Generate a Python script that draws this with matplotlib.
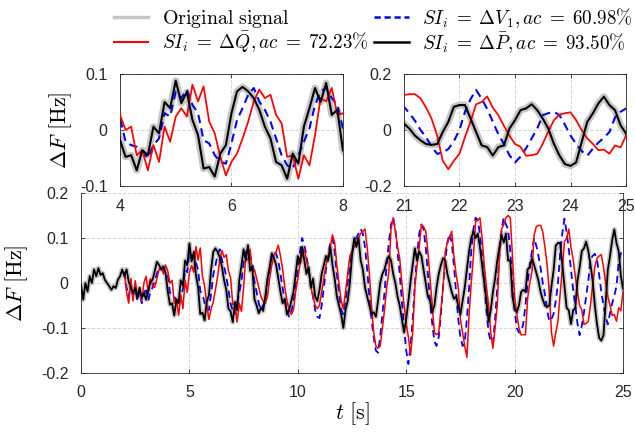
import numpy as np
import matplotlib.pyplot as plt
from matplotlib.lines import Line2D
from matplotlib.ticker import FuncFormatter

t_start, t_end, dt = 0.0, 25.0, 0.1
t_si_start = 2.0  # reconstructed signals begin here

black = [
    -0.004, -0.037, 0.000, -0.019, 0.015, 0.000, 0.030, 0.015, 0.033, 0.018,
    0.022, 0.007, 0.000, -0.007, -0.015, -0.007, -0.011, 0.007, 0.015, 0.030,
    0.015, 0.030, 0.003, -0.011, -0.022, -0.011, -0.033, -0.011, -0.033, -0.022,
    -0.037, -0.019, 0.003, 0.007, 0.026, 0.047, 0.040, 0.030, 0.037, 0.022,
    -0.018, -0.048, -0.045, -0.072, -0.036, -0.045, 0.006, -0.006, 0.050, 0.039,
    0.088, 0.048, 0.068, 0.018, -0.009, -0.069, -0.066, -0.083, -0.042, -0.027,
    0.030, 0.069, 0.077, 0.069, 0.057, 0.036, 0.006, -0.015, -0.057, -0.063,
    -0.087, -0.042, -0.060, 0.006, 0.039, 0.075, 0.050, 0.084, 0.027, 0.036,
    -0.036, -0.050, -0.067, -0.055, -0.062, -0.030, 0.010, 0.035, 0.066, 0.055,
    0.040, 0.010, -0.020, -0.045, -0.035, -0.070, -0.060, -0.040, -0.020, 0.020,
    0.060, 0.045, 0.080, 0.050, 0.020, 0.035, -0.010, 0.010, -0.030, -0.040,
    -0.015, 0.020, 0.040, 0.060, 0.050, 0.080, 0.040, 0.010, -0.030, -0.050,
    -0.070, -0.100, -0.060, -0.040, 0.000, 0.060, 0.100, 0.080, 0.100, 0.050,
    0.030, -0.010, -0.030, -0.050, -0.070, -0.065, -0.075, -0.040, 0.000, 0.020,
    0.030, 0.050, 0.060, 0.050, 0.020, 0.000, -0.030, -0.050, -0.080, -0.110,
    -0.080, -0.040, 0.003, 0.040, 0.077, 0.050, 0.070, 0.060, 0.030, 0.000,
    -0.030, -0.040, -0.065, -0.050, -0.010, 0.020, 0.040, 0.055, 0.050, 0.020,
    0.000, -0.020, -0.035, -0.030, -0.050, -0.070, -0.040, -0.010, 0.030, 0.070,
    0.100, 0.114, 0.100, 0.110, 0.080, 0.040, 0.000, -0.040, -0.086, -0.060,
    -0.020, 0.010, 0.050, 0.080, 0.107, 0.090, 0.110, 0.050, 0.050, -0.030,
    -0.057, -0.065, -0.050, -0.020, -0.015, -0.020, 0.030, 0.035, 0.055, 0.040,
    0.023, 0.005, -0.020, -0.037, -0.050, -0.053, -0.050, -0.007, 0.029, 0.083,
    0.089, 0.089, 0.041, -0.007, -0.055, -0.061, -0.091, -0.061, -0.055, 0.005,
    0.035, 0.071, 0.077, 0.092, 0.071, 0.041, 0.005, -0.049, -0.091, -0.122,
    -0.128, -0.116, -0.043, 0.029, 0.059, 0.095, 0.119, 0.089, 0.071, 0.017,
    -0.013,
]

# grey original signal lies right under the black (dP) curve
original = list(black)

red = [
    0.020, -0.020, -0.045, 0.010, -0.040, 0.005, -0.030, -0.010, -0.040, 0.000,
    0.015, -0.020, 0.010, -0.005, -0.010, 0.010, 0.030, 0.035, 0.020, 0.040,
    0.027, 0.000, 0.006, -0.045, -0.036, -0.072, -0.027, -0.057, 0.006, -0.021,
    0.024, 0.039, 0.024, 0.081, 0.051, 0.078, 0.015, -0.006, -0.048, -0.081,
    -0.057, -0.042, -0.015, 0.015, 0.051, 0.072, 0.057, 0.063, 0.027, 0.012,
    -0.048, -0.045, -0.087, -0.045, -0.063, -0.009, 0.057, 0.051, 0.075, 0.027,
    0.030, 0.010, -0.010, -0.030, -0.040, -0.045, -0.030, 0.010, 0.040, 0.060,
    0.070, 0.084, 0.060, 0.030, -0.010, -0.040, -0.060, -0.070, -0.060, -0.020,
    0.010, 0.040, 0.060, 0.077, 0.050, 0.030, -0.010, -0.030, -0.050, -0.057,
    -0.050, -0.020, 0.010, 0.040, 0.060, 0.080, 0.107, 0.090, 0.040, 0.000,
    -0.040, -0.057, -0.020, 0.020, 0.060, 0.070, 0.080, 0.090, 0.100, 0.110,
    0.115, 0.120, 0.080, 0.020, -0.050, -0.110, -0.140, -0.145, -0.140, -0.100,
    -0.060, -0.010, 0.025, 0.120, 0.145, 0.115, 0.080, 0.055, 0.000, -0.050,
    -0.090, -0.120, -0.160, -0.110, -0.010, 0.040, 0.080, 0.130, 0.125, 0.115,
    0.070, 0.010, -0.050, -0.110, -0.115, -0.110, -0.060, -0.010, 0.070, 0.090,
    0.100, 0.115, 0.060, 0.020, -0.010, -0.080, -0.110, -0.140, -0.165, -0.070,
    0.000, 0.060, 0.136, 0.140, 0.145, 0.100, 0.040, -0.010, -0.050, -0.110,
    -0.145, -0.100, -0.050, 0.060, 0.120, 0.130, 0.145, 0.150, 0.145, 0.060,
    -0.030, -0.070, -0.100, -0.115, -0.115, -0.115, -0.035, 0.000, 0.025, 0.107,
    0.125, 0.128, 0.128, 0.113, 0.080, 0.040, -0.020, -0.110, -0.140, -0.110,
    -0.085, -0.025, 0.030, 0.092, 0.100, 0.120, 0.080, 0.053, 0.015, -0.020,
    -0.050, -0.060, -0.092, -0.090, -0.085, -0.049, -0.005, 0.035, 0.055, 0.060,
    0.063, 0.035, 0.000, -0.030, -0.049, -0.072, -0.070, -0.085, -0.055, -0.062,
    -0.019,
]

blue = [
    0.025, -0.010, -0.030, 0.000, -0.035, -0.010, -0.040, -0.020, -0.045, -0.030,
    -0.010, -0.040, -0.020, -0.010, 0.005, 0.020, 0.035, 0.030, 0.030, 0.025,
    0.021, -0.021, -0.027, -0.030, -0.039, -0.050, -0.027, -0.015, 0.030, 0.024,
    0.069, 0.057, 0.072, 0.045, 0.030, -0.018, -0.024, -0.045, -0.057, -0.060,
    -0.024, 0.018, 0.039, 0.063, 0.075, 0.051, 0.036, 0.015, -0.015, -0.045,
    -0.063, -0.069, -0.045, -0.021, 0.003, 0.045, 0.069, 0.075, 0.057, 0.045,
    0.003, -0.020, -0.045, -0.060, -0.050, -0.035, 0.000, 0.030, 0.055, 0.070,
    0.065, 0.050, 0.020, -0.010, -0.040, -0.060, -0.075, -0.065, -0.040, -0.010,
    0.030, 0.070, 0.100, 0.085, 0.060, 0.030, 0.000, -0.030, -0.060, -0.075,
    -0.078, -0.050, -0.010, 0.030, 0.060, 0.090, 0.100, 0.070, 0.020, -0.020,
    -0.060, -0.070, -0.040, 0.000, 0.040, 0.070, 0.090, 0.100, 0.110, 0.120,
    0.110, 0.080, 0.030, -0.030, -0.080, -0.120, -0.150, -0.155, -0.120, -0.070,
    -0.020, 0.040, 0.090, 0.130, 0.145, 0.120, 0.070, 0.020, -0.040, -0.100,
    -0.150, -0.180, -0.140, -0.080, 0.000, 0.060, 0.110, 0.130, 0.120, 0.080,
    0.020, -0.040, -0.090, -0.130, -0.140, -0.120, -0.070, -0.010, 0.050, 0.090,
    0.110, 0.090, 0.040, -0.020, -0.080, -0.120, -0.140, -0.130, -0.080, -0.010,
    0.070, 0.120, 0.145, 0.140, 0.110, 0.060, 0.000, -0.060, -0.110, -0.130,
    -0.135, -0.080, -0.010, 0.060, 0.120, 0.145, 0.130, 0.120, 0.070, 0.000,
    -0.060, -0.100, -0.110, -0.110, -0.090, -0.050, 0.000, 0.040, 0.070, 0.100,
    0.083, 0.060, 0.033, 0.000, -0.025, -0.060, -0.085, -0.080, -0.068, -0.040,
    0.000, 0.065, 0.110, 0.143, 0.112, 0.075, 0.030, -0.015, -0.050, -0.090,
    -0.116, -0.095, -0.065, -0.030, 0.005, 0.053, 0.060, 0.065, 0.053, 0.018,
    -0.020, -0.050, -0.075, -0.092, -0.067, -0.045, -0.028, -0.007, 0.045, 0.065,
    0.077,
]

labels = [r'$\mathrm{Original\ signal}$',
          r'$SI_i\;=\;\Delta\bar{Q}, ac\;=\;72.23\%$',
          r'$SI_i\;=\;\Delta V_1, ac\;=\;60.98\%$',
          r'$SI_i\;=\;\Delta\bar{P}, ac\;=\;93.50\%$']

main_xlim, main_ylim = (0, 25), (-0.2, 0.2)
zoom1_xlim, zoom1_ylim = (4, 8), (-0.1, 0.1)
zoom2_xlim, zoom2_ylim = (21, 25), (-0.2, 0.2)

t = np.round(np.arange(len(black)) * dt + t_start, 1)
t_si = np.round(np.arange(len(red)) * dt + t_si_start, 1)

plt.rcParams['mathtext.fontset'] = 'cm'
plt.rcParams['axes.unicode_minus'] = False
plt.rcParams['font.family'] = ['Liberation Sans', 'DejaVu Sans']

GREY = '#c6c6c6'
fmt = FuncFormatter(lambda v, _: f'{v:g}')


def draw(a, halo, lw):
    a.plot(t, original, color=GREY, lw=halo, solid_capstyle='round',
           solid_joinstyle='round', zorder=1)
    a.plot(t_si, blue, color='#0000ff', lw=lw, ls=(0, (4, 2.6)), zorder=2)
    a.plot(t_si, red, color='#ff0000', lw=lw * 0.85, zorder=3)
    a.plot(t, black, color='k', lw=lw, zorder=4)
    a.grid(True, ls='--', color='#d6d6d6', lw=0.7)
    a.set_axisbelow(True)
    a.tick_params(direction='in', length=3, width=0.6, labelsize=11.5, pad=9,
                  colors='#262626', top=True, right=True)
    a.xaxis.set_major_formatter(fmt)
    a.yaxis.set_major_formatter(fmt)
    for s in a.spines.values():
        s.set_linewidth(0.6)
        s.set_color('#262626')


fig = plt.figure(figsize=(6.35, 4.32), dpi=100)
ax = fig.add_axes([0.1276, 0.1366, 0.8535, 0.4166])
ax1 = fig.add_axes([0.189, 0.5694, 0.351, 0.2593])
ax2 = fig.add_axes([0.636, 0.5694, 0.350, 0.2593])

draw(ax, 3.6, 1.3)
ax.set_xlim(main_xlim)
ax.set_ylim(main_ylim)
ax.set_xticks(np.arange(0, 26, 5))
ax.set_yticks([-0.2, -0.1, 0, 0.1, 0.2])
ax.tick_params(top=False)
ax.spines['top'].set_visible(False)
ax.set_xlabel(r'$t\ [\mathrm{s}]$', fontsize=16, labelpad=0)
ax.set_ylabel(r'$\Delta F\ [\mathrm{Hz}]$', fontsize=16, labelpad=8)

draw(ax1, 5, 1.5)
ax1.set_xlim(zoom1_xlim)
ax1.set_ylim(zoom1_ylim)
ax1.set_xticks([4, 6, 8])
ax1.set_yticks([-0.1, 0, 0.1])
ax1.set_ylabel(r'$\Delta F\ [\mathrm{Hz}]$', fontsize=16, labelpad=4)

draw(ax2, 5, 1.5)
ax2.set_xlim(zoom2_xlim)
ax2.set_ylim(zoom2_ylim)
ax2.set_xticks([21, 22, 23, 24, 25])
ax2.set_yticks([-0.2, 0, 0.2])

handles = [Line2D([], [], color=GREY, lw=2.5),
           Line2D([], [], color='#ff0000', lw=1.5),
           Line2D([], [], color='#0000ff', lw=1.8, ls=(0, (2.5, 1.5))),
           Line2D([], [], color='k', lw=1.8)]
leg = fig.legend(handles, [labels[0], labels[1], labels[2], labels[3]], ncol=2,
                 loc='upper left', bbox_to_anchor=(0.158, 1.018), frameon=False,
                 fontsize=13.8, handlelength=1.8, handletextpad=0.7,
                 columnspacing=0.3, labelspacing=0.0, borderaxespad=0.3)
leg.get_texts()[0].set_fontsize(14.3)

fig.savefig('out.png', dpi=100)
